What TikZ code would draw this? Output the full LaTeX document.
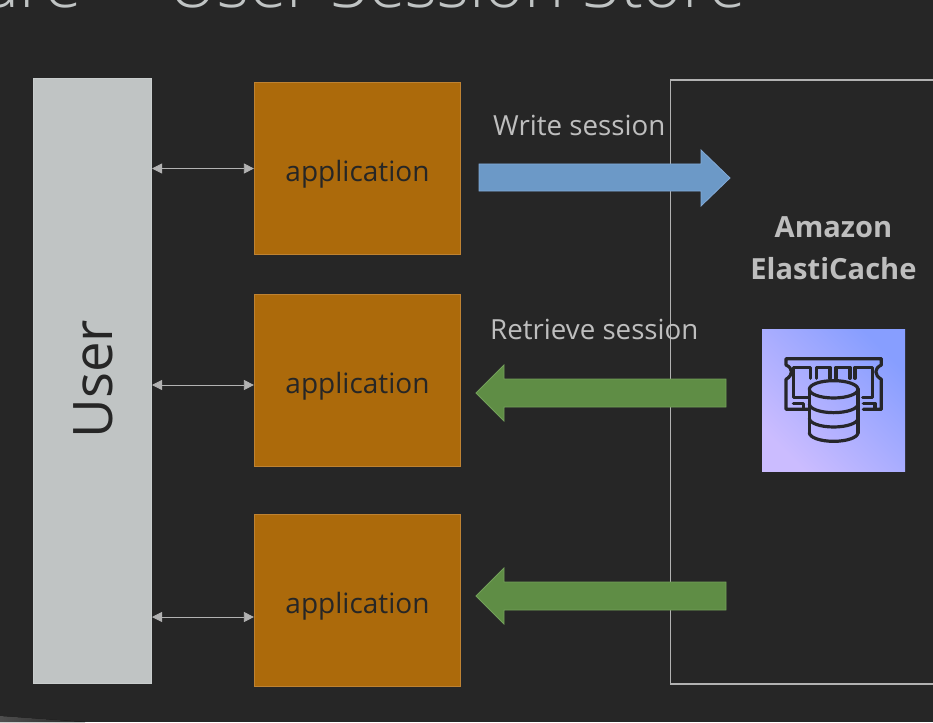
\documentclass[tikz,border=0pt]{standalone}
\usepackage{fontspec}
\setmainfont{Open Sans}
\newfontfamily\lightfont{Open Sans Light}
\usetikzlibrary{arrows.meta}
\definecolor{bgc}{RGB}{38,38,38}
\definecolor{userc}{RGB}{192,196,196}
\definecolor{appc}{RGB}{172,106,11}
\definecolor{appl}{RGB}{190,130,50}
\definecolor{linec}{RGB}{178,178,178}
\definecolor{txtc}{RGB}{190,190,190}
\definecolor{bluec}{RGB}{108,153,199}
\definecolor{bluel}{RGB}{130,170,215}
\definecolor{greenc}{RGB}{95,141,69}
\definecolor{greenl}{RGB}{115,160,90}
\definecolor{icond}{RGB}{38,38,42}
\definecolor{slivc}{RGB}{78,78,78}
\tikzset{
  x=1pt,y=-1pt,
  appbox/.style={draw=appl,line width=1.2pt,fill=appc,minimum width=206pt,minimum height=172pt,inner sep=0pt,
     font=\fontsize{28}{30}\selectfont,text=black!85},
  biarrow/.style={{Triangle[length=10pt,width=10pt]}-{Triangle[length=10pt,width=10pt]},draw=linec,line width=.8pt,color=linec},
  blue arrow/.style={fill=bluec,draw=bluel,line width=.8pt},
  green arrow/.style={fill=greenc,draw=greenl,line width=.8pt},
  lbl/.style={text=txtc,font=\fontsize{27.7}{30}\selectfont,inner sep=0pt},
  titletext/.style={anchor=base west,inner sep=0pt,text=userc,font=\lightfont\fontsize{68.3}{72}\selectfont},
  iconline/.style={draw=icond,line width=3.2pt,line join=round,line cap=round},
}
\begin{document}
\begin{tikzpicture}
\useasboundingbox (0,0) rectangle (933,722);
\clip (0,0) rectangle (933,722);
\fill[bgc] (0,0) rectangle (933,722);
\fill[left color=slivc,right color=bgc] (0,722) -- (0,716) -- (85,722) -- cycle;
% title, cut by the top edge
\node[titletext] (title) at (-21,8) {ure};
\node[titletext] (title2) at (168,8) {User Session Store};
% ElastiCache box
\draw[linec,line width=1.2pt] (940,80) -- (670.5,80) -- (670.5,684) -- (940,684);
% user
\node[draw=userc!85!white,line width=1pt,fill=userc,minimum width=118pt,minimum height=605pt,inner sep=0pt] (user) at (92.5,381) {};
\node[rotate=90,text=bgc,font=\fontsize{54.5}{60}\selectfont,inner sep=0pt] (userlbl) at (93,379) {User};
% applications
\node[appbox] (app1) at (357.5,168.5) {\raisebox{-12.5pt}[0pt][0pt]{application}};
\node[appbox] (app2) at (357.5,380.5) {\raisebox{-12.5pt}[0pt][0pt]{application}};
\node[appbox] (app3) at (357.5,600.5) {\raisebox{-12.5pt}[0pt][0pt]{application}};
% user <-> app
\coordinate (a1) at (app1.west);
\coordinate (a2) at ([yshift=-4.5pt]app2.west);
\coordinate (a3) at ([yshift=-16.5pt]app3.west);
\draw[biarrow] (user.east |- a1) -- (a1);
\draw[biarrow] (user.east |- a2) -- (a2);
\draw[biarrow] (user.east |- a3) -- (a3);
% block arrows
\draw[blue arrow] (479,164) -- (701,164) -- (701,150) -- (730,178) -- (701,206) -- (701,191) -- (479,191) -- cycle;
\draw[green arrow] (726,379) -- (504,379) -- (504,365) -- (476,393) -- (504,421) -- (504,407) -- (726,407) -- cycle;
\draw[green arrow] (726,582) -- (504,582) -- (504,568) -- (476,596) -- (504,624) -- (504,610) -- (726,610) -- cycle;
% labels
\node[lbl,anchor=base west] (wlbl) at (493,136) {Write session};
\node[lbl,anchor=base west] (rlbl) at (490,339) {Retrieve session};
\node[lbl,font=\bfseries\fontsize{29.1}{41.5}\selectfont,align=center] (cachelbl) at (833.5,248) {Amazon\\ElastiCache};
% icon
\shade[top color={rgb,255:red,135;green,158;blue,255},bottom color={rgb,255:red,203;green,188;blue,255},shading angle=-45] (762,329) rectangle (905,471);
\begin{scope}[shift={(740,310)},x=.3333pt,y=-.3333pt,iconline]
 % memory module
 \draw (205,298) -- (138,298) -- (138,208) .. controls (160,195) and (160,175) .. (138,165) -- (138,146) -- (424,146) -- (424,165) .. controls (402,175) and (402,195) .. (424,208) -- (424,298) -- (370,298);
 \draw (205,262) -- (160,262) -- (160,172) -- (212,172) -- (212,205);
 \draw (230,205) -- (230,172) -- (270,172) -- (270,205);
 \draw (288,205) -- (288,172) -- (330,172) -- (330,205);
 \draw (345,205) -- (345,172) -- (398,172) -- (398,262) -- (368,262);
 \draw (190,298) -- (190,280) -- (160,280);
 \draw (370,280) -- (405,280) -- (405,298);
 % database
 \draw (281,238) ellipse [x radius=73,y radius=26];
 \draw (208,238) -- (208,368);
 \draw (354,238) -- (354,368);
 \draw (208,368) arc [start angle=180,end angle=0,x radius=73,y radius=26];
 \draw (208,282) arc [start angle=180,end angle=0,x radius=73,y radius=26];
 \draw (208,325) arc [start angle=180,end angle=0,x radius=73,y radius=26];
\end{scope}
\end{tikzpicture}
\end{document}
